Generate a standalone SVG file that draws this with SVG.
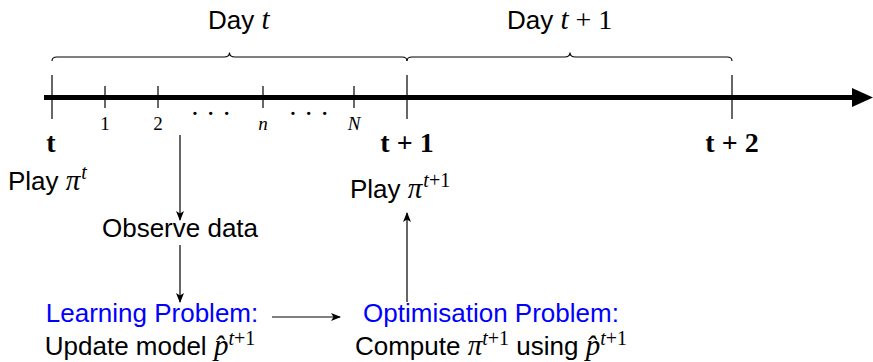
<svg xmlns="http://www.w3.org/2000/svg" width="873" height="362" viewBox="0 0 873 362">
<style>
.sans{font-family:"Liberation Sans",Arial,sans-serif;font-size:26px;fill:#000}
.blue{fill:#0000ff}
.m{font-family:"Liberation Serif","Times New Roman",serif;font-style:italic;font-size:29px}
.r{font-family:"Liberation Serif","Times New Roman",serif;font-style:normal;font-size:28px}
.sup{font-size:20px}
.sup .m,.sup .r{font-size:20px}
.bold{font-family:"Liberation Serif","Times New Roman",serif;font-weight:bold;font-size:28px;text-anchor:middle}
.num{font-family:"Liberation Serif","Times New Roman",serif;font-size:19px;text-anchor:middle}
.dots{font-family:"Liberation Serif","Times New Roman",serif;font-size:28px;letter-spacing:6.5px;text-anchor:middle}
.tick{stroke:#000;stroke-width:1.2}
.conn{stroke:#000;stroke-width:1.2;fill:none}
.brace{stroke:#000;stroke-width:1.1;fill:none}
</style>
<defs>
<marker id="ah" markerWidth="10" markerHeight="8" refX="9" refY="4" orient="auto" markerUnits="userSpaceOnUse">
<path d="M0,0 L10,4 L0,8 L2.5,4 Z" fill="#000"/>
</marker>
</defs>

<g id="timeline">
<line x1="44" y1="97.5" x2="854" y2="97.5" stroke="#000" stroke-width="5"/>
<polygon points="852,88 873,97.5 852,107" fill="#000"/>
<line class="tick" x1="52" y1="75" x2="52" y2="119"/>
<line class="tick" x1="407" y1="75" x2="407" y2="119"/>
<line class="tick" x1="732" y1="75" x2="732" y2="119"/>
<line class="tick" x1="105" y1="86" x2="105" y2="108"/>
<line class="tick" x1="158" y1="86" x2="158" y2="108"/>
<line class="tick" x1="263" y1="86" x2="263" y2="108"/>
<line class="tick" x1="354" y1="86" x2="354" y2="108"/>
<text class="num" x="105" y="130">1</text>
<text class="num" x="158" y="130">2</text>
<text class="num" x="263" y="130" font-style="italic">n</text>
<text class="num" x="354" y="130" font-style="italic">N</text>
<text class="dots" x="214" y="123">···</text>
<text class="dots" x="312" y="123">···</text>
<text class="bold" x="51" y="152">t</text>
<text class="bold" x="407" y="152">t + 1</text>
<text class="bold" x="732" y="152">t + 2</text>
</g>

<g id="day-t">
<path class="brace" d="M52,61 Q52,57 57,57 L224,57 Q229.5,57 229.5,52.5 Q229.5,57 235,57 L402,57 Q407,57 407,61"/>
<text class="sans" x="208" y="29">Day <tspan class="m">t</tspan></text>
</g>

<g id="day-t1">
<path class="brace" d="M407,61 Q407,57 412,57 L564.5,57 Q570,57 570,52.5 Q570,57 575.5,57 L727,57 Q732,57 732,61"/>
<text class="sans" x="507" y="29">Day <tspan class="m">t</tspan><tspan class="r"> + 1</tspan></text>
</g>

<g id="play-t">
<text class="sans" x="8" y="190">Play <tspan class="m">π</tspan><tspan class="sup" dy="-11" dx="1"><tspan class="m">t</tspan></tspan></text>
</g>

<g id="play-t1">
<text class="sans" x="350" y="198">Play <tspan class="m">π</tspan><tspan class="sup" dy="-11" dx="1"><tspan class="m">t</tspan><tspan class="r">+1</tspan></tspan></text>
</g>

<g id="observe">
<text class="sans" x="180" y="237" text-anchor="middle">Observe data</text>
</g>

<g id="learning">
<text class="sans blue" x="152" y="322" text-anchor="middle">Learning Problem:</text>
<text class="sans" x="150" y="355" text-anchor="middle">Update model <tspan class="m">p̂</tspan><tspan class="sup" dy="-10"><tspan class="m">t</tspan><tspan class="r">+1</tspan></tspan></text>
</g>

<g id="optimisation">
<text class="sans blue" x="491" y="322" text-anchor="middle">Optimisation Problem:</text>
<text class="sans" x="491" y="355" text-anchor="middle">Compute <tspan class="m">π</tspan><tspan class="sup" dy="-10"><tspan class="m">t</tspan><tspan class="r">+1</tspan></tspan><tspan dy="10">  using </tspan><tspan class="m">p̂</tspan><tspan class="sup" dy="-10"><tspan class="m">t</tspan><tspan class="r">+1</tspan></tspan></text>
</g>

<g id="connectors">
<line class="conn" x1="180" y1="135" x2="180" y2="220" marker-end="url(#ah)"/>
<line class="conn" x1="180" y1="245" x2="180" y2="302" marker-end="url(#ah)"/>
<line class="conn" x1="272" y1="317" x2="340" y2="317" marker-end="url(#ah)"/>
<line class="conn" x1="407" y1="302" x2="407" y2="213" marker-end="url(#ah)"/>
</g>
</svg>
